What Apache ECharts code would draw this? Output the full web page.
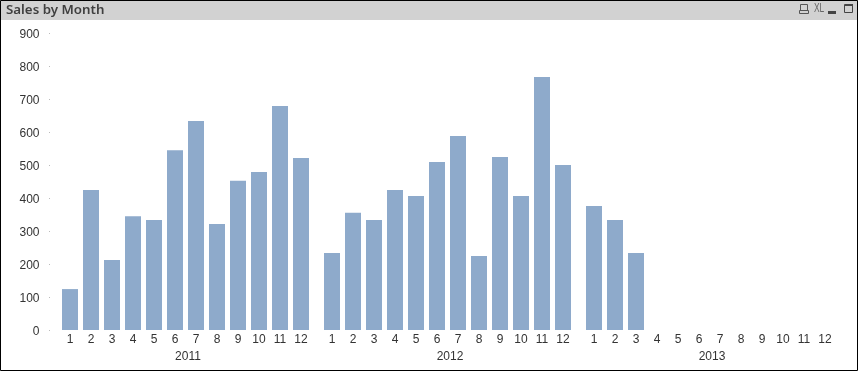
<!DOCTYPE html>
<html>
<head>
<meta charset="utf-8">
<style>
html, body { margin: 0; padding: 0; background: #fff; }
#main { width: 858px; height: 371px; }
</style>
<script src="https://cdn.jsdelivr.net/npm/echarts@6/dist/echarts.min.js"></script>
</head>
<body>
<div id="main"></div>
<script>
var months = ['1', '2', '3', '4', '5', '6', '7', '8', '9', '10', '11', '12'];
var years = ['2011', '2012', '2013'];
var sales2011 = [124, 424, 212, 345, 333, 545, 633, 321, 452, 479, 679, 521];
var sales2012 = [233, 355, 333, 424, 406, 509, 588, 224, 524, 406, 767, 500];
var sales2013 = [376, 333, 233, null, null, null, null, null, null, null, null, null];

var salesByYear = [sales2011, sales2012, sales2013];
var gridLefts = [59.5, 321.5, 583.5];
var labelFont = 'Liberation Sans';

var grids = [], xAxes = [], yAxes = [], series = [];
for (var i = 0; i < years.length; i++) {
    grids.push({ left: gridLefts[i], width: 252, top: 33, height: 297 });
    xAxes.push({
        type: 'category',
        gridIndex: i,
        data: months,
        name: years[i],
        nameLocation: 'middle',
        nameGap: 19,
        // year labels sit a little right of the group centre
        nameTextStyle: { color: '#333', fontSize: 12, fontFamily: labelFont, padding: [0, 0, 0, 5] },
        axisLine: { show: false },
        axisTick: { show: false },
        axisLabel: { color: '#333', fontSize: 12, fontFamily: labelFont, margin: 4, interval: 0 }
    });
    yAxes.push({
        type: 'value',
        gridIndex: i,
        min: 0,
        max: 900,
        interval: 100,
        show: i === 0,
        offset: 9.5,
        axisLine: { show: false },
        axisTick: { show: i === 0, length: 1, lineStyle: { color: '#bbb' } },
        splitLine: { show: false },
        // short line box pushes the digits 2px under the tick
        axisLabel: { color: '#333', fontSize: 12, fontFamily: labelFont, margin: 10.5, verticalAlign: 'top', lineHeight: 4 }
    });
    series.push({
        type: 'bar',
        xAxisIndex: i,
        yAxisIndex: i,
        data: salesByYear[i],
        barWidth: 16,
        silent: true,
        itemStyle: { color: '#8eaacb' }
    });
}

var chart = echarts.init(document.getElementById('main'));
chart.setOption({
    animation: false,
    backgroundColor: '#fff',
    title: {
        text: 'Sales by Month',
        left: 6,
        top: 4,
        padding: 0,
        textStyle: { color: '#404040', fontSize: 13.3, fontWeight: 600, fontFamily: 'Noto Sans' }
    },
    grid: grids,
    xAxis: xAxes,
    yAxis: yAxes,
    series: series,
    graphic: [
        // caption bar and outer frame
        { type: 'rect', z: -1, shape: { x: 0, y: 0, width: 858, height: 20 }, style: { fill: '#d2d2d2' } },
        { type: 'rect', z: 10, shape: { x: 0.5, y: 0.5, width: 857, height: 370 }, style: { fill: 'none', stroke: '#000', lineWidth: 1 } },
        // caption icons
        { type: 'rect', z: 10, shape: { x: 800.5, y: 4.5, width: 7, height: 6 }, style: { fill: 'none', stroke: '#555' } },
        { type: 'rect', z: 10, shape: { x: 799.5, y: 10.5, width: 9, height: 3 }, style: { fill: 'none', stroke: '#555' } },
        { type: 'text', z: 10, x: 814, y: 3, scaleX: 0.7, style: { text: 'XL', fill: '#666', fontSize: 12, fontFamily: labelFont } },
        { type: 'rect', z: 10, shape: { x: 828, y: 11, width: 8, height: 3 }, style: { fill: '#444' } },
        { type: 'rect', z: 10, shape: { x: 844.5, y: 4.5, width: 8, height: 8 }, style: { fill: 'none', stroke: '#444' } },
        { type: 'rect', z: 10, shape: { x: 845, y: 4, width: 8, height: 2 }, style: { fill: '#444' } }
    ]
});
</script>
</body>
</html>
